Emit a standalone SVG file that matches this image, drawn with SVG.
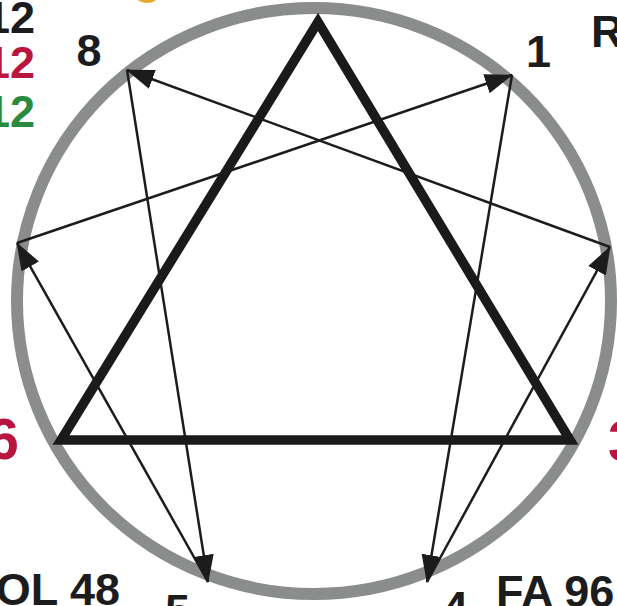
<svg xmlns="http://www.w3.org/2000/svg" width="617" height="606" viewBox="0 0 617 606">
  <style>
    .lbl { font-family: "Liberation Sans", Arial, sans-serif; font-weight: bold; font-size: 45px; fill: #1c1c1c; }
    .big { font-size: 57px; }
    .red { fill: #b8163f; }
    .green { fill: #2a8a3e; }
    .arrow { stroke: #1c1c1c; stroke-width: 2.5; fill: none; marker-end: url(#head); }
  </style>
  <defs>
    <marker id="head" markerUnits="userSpaceOnUse" markerWidth="28" markerHeight="20" viewBox="0 0 28 20" refX="27" refY="10" orient="auto">
      <path d="M0,0 L28,10 L0,20 Z" fill="#1c1c1c"/>
    </marker>
  </defs>
  <rect width="617" height="606" fill="#ffffff"/>

  <ellipse cx="147" cy="-4" rx="11" ry="7" fill="#e8a830"/>

  <g id="ring">
    <ellipse cx="314" cy="301" rx="297" ry="293" fill="none" stroke="#8b8d8d" stroke-width="12"/>
  </g>

  <g id="triangle">
    <path d="M318,22 L570,440 L61,440 Z" fill="none" stroke="#1a1a1a" stroke-width="9.5" stroke-linejoin="miter" stroke-miterlimit="10"/>
  </g>

  <g id="connectors">
    <line class="arrow" x1="512" y1="75" x2="427" y2="582"/>
    <line class="arrow" x1="427" y1="582" x2="610" y2="247"/>
    <line class="arrow" x1="610" y1="247" x2="127" y2="70"/>
    <line class="arrow" x1="127" y1="70" x2="208" y2="582"/>
    <line class="arrow" x1="208" y1="582" x2="17" y2="243"/>
    <line class="arrow" x1="17" y1="243" x2="512" y2="75"/>
  </g>

  <g id="node-8"><text class="lbl" x="89" y="66" text-anchor="middle">8</text></g>
  <g id="node-1"><text class="lbl" x="526" y="67">1</text></g>
  <g id="node-R"><text class="lbl" x="591" y="47">R</text></g>
  <g id="node-6"><text class="lbl big red" x="19" y="459" text-anchor="end">6</text></g>
  <g id="node-3"><text class="lbl big red" x="608" y="461">3</text></g>
  <g id="node-5"><text class="lbl" x="165" y="626">5</text></g>
  <g id="node-4"><text class="lbl" x="443" y="623">4</text></g>
  <g id="node-sol"><text class="lbl" x="120" y="605" text-anchor="end">OL 48</text></g>
  <g id="node-fa"><text class="lbl" x="496" y="607">FA 96</text></g>
  <g id="node-12">
    <text class="lbl" x="35" y="33" text-anchor="end">12</text>
    <text class="lbl red" x="35" y="78" text-anchor="end">12</text>
    <text class="lbl green" x="35" y="127" text-anchor="end">12</text>
  </g>
</svg>
